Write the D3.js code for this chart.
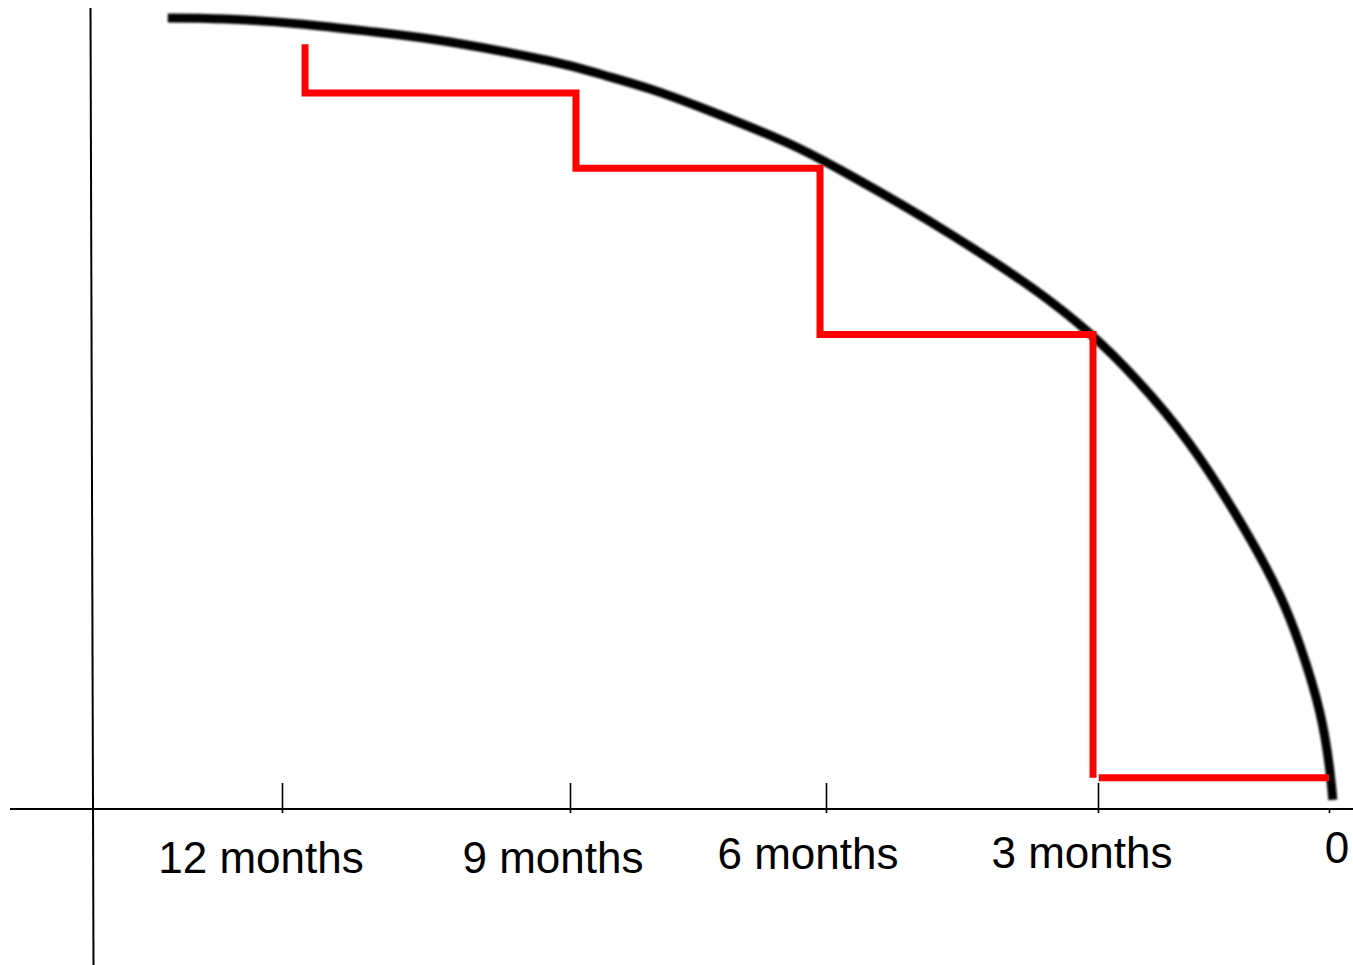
<!DOCTYPE html>
<html>
<head>
<meta charset="utf-8">
<script src="https://cdn.jsdelivr.net/npm/d3@7"></script>
<style>
  html, body { margin: 0; padding: 0; background: #fff; }
  svg { display: block; }
  text { font-family: "Liberation Sans", Arial, sans-serif; }
</style>
</head>
<body>
<svg id="chart" width="1353" height="965"></svg>
<script>
// ---------- data ----------
const tickMonths = [12, 9, 6, 3, 0];
const tickLabels = ["12 months", "9 months", "6 months", "3 months", "0"];

// black curve (months before, value 0-100)
const curveMonths = [13.19, 12.59, 11.81, 11.03, 10.25, 9.21, 8.65, 8.06, 7.48, 6.89, 6.30, 5.74, 5.18, 4.63, 4.08, 3.53, 2.97, 2.32, 1.68, 1.03, 0.64, 0.38, 0.12, -0.01, -0.05];
const curveValues = [98.88, 98.75, 98.13, 97.13, 95.88, 93.5, 91.88, 90.0, 87.75, 85.25, 82.5, 79.25, 75.63, 71.88, 67.88, 63.5, 58.25, 51.75, 43.88, 33.88, 26.75, 20.5, 12.13, 4.88, 1.13];

// red step line
const stepMonths = [11.76, 8.93, 6.07, 3.055];
const stepLevels = [95.6, 89.5, 80.1, 59.3, 3.9];
const finalSegMonths = [2.99, 0];
const finalSegLevel = 3.9;

// ---------- layout ----------
const W = 1353, H = 965;
const svg = d3.select("#chart");

const x = d3.scaleLinear().domain(tickMonths).range([282, 570, 826, 1098, 1329]);
const y = d3.scaleLinear().domain([0, 100]).range([809, 9]);

// label placement tweaks (hand-placed in reference)
const labelDx = [-21, -17, -18, -16, 8];
const labelY  = [873, 873, 869, 868, 863];

// filter for soft curve
const defs = svg.append("defs");
defs.append("filter").attr("id", "soft")
  .append("feGaussianBlur").attr("stdDeviation", 0.8);

// axes lines
svg.append("line")
  .attr("x1", 10).attr("x2", W)
  .attr("y1", y(0)).attr("y2", y(0))
  .attr("stroke", "#000").attr("stroke-width", 2);
svg.append("line")
  .attr("x1", 90.5).attr("x2", 93.5)
  .attr("y1", 8).attr("y2", H)
  .attr("stroke", "#000").attr("stroke-width", 2);

// ticks via d3 axis
const axis = d3.axisBottom(x).tickValues(tickMonths).tickSize(4).tickFormat("");
const gAxis = svg.append("g").attr("transform", `translate(0,${y(0)})`).call(axis);
gAxis.select(".domain").remove();
gAxis.selectAll(".tick line")
  .attr("y1", (d) => d === 0 ? 0 : -26).attr("y2", 4)
  .attr("stroke", "#000").attr("stroke-width", 1.6);

// labels
svg.append("g").selectAll("text")
  .data(tickMonths)
  .join("text")
  .attr("x", (d, i) => x(d) + labelDx[i])
  .attr("y", (d, i) => labelY[i])
  .attr("text-anchor", "middle")
  .attr("font-size", 44)
  .attr("fill", "#000")
  .text((d, i) => tickLabels[i]);

// black curve
const curvePts = curveMonths.map((m, i) => [m, curveValues[i]]);
const line = d3.line().x(d => x(d[0])).y(d => y(d[1])).curve(d3.curveNatural);
svg.append("path")
  .attr("d", line(curvePts))
  .attr("fill", "none")
  .attr("stroke", "#000")
  .attr("stroke-width", 9)
  .attr("stroke-linecap", "butt")
  .attr("filter", "url(#soft)");

// red steps
const stepPts = [[stepMonths[0], stepLevels[0]]];
stepMonths.forEach((m, i) => {
  stepPts.push([m, stepLevels[i + 1]]);
  if (i + 1 < stepMonths.length) stepPts.push([stepMonths[i + 1], stepLevels[i + 1]]);
});
const straight = d3.line().x(d => x(d[0])).y(d => y(d[1]));
svg.append("path")
  .attr("d", straight(stepPts))
  .attr("fill", "none")
  .attr("stroke", "#ff0000")
  .attr("stroke-width", 7)
  .attr("stroke-linejoin", "miter")
  .attr("stroke-linecap", "butt");

svg.append("path")
  .attr("d", straight(finalSegMonths.map(m => [m, finalSegLevel])))
  .attr("fill", "none")
  .attr("stroke", "#ff0000")
  .attr("stroke-width", 7)
  .attr("stroke-linecap", "butt");
</script>
</body>
</html>
